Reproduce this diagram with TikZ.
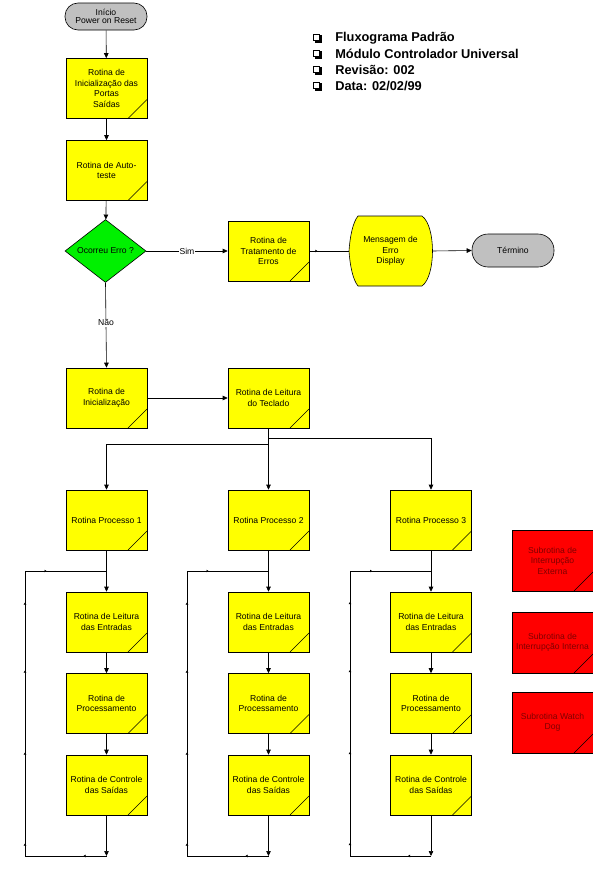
\documentclass[tikz,border=0pt]{standalone}
\usepackage{fontspec}
\setmainfont{Liberation Sans}
\usetikzlibrary{arrows.meta,shapes.geometric,decorations.markings}
\definecolor{boxyellow}{RGB}{255,255,0}
\definecolor{boxgreen}{RGB}{0,240,0}
\definecolor{boxgray}{RGB}{192,192,192}
\definecolor{boxred}{RGB}{255,0,0}
\definecolor{darkredtext}{RGB}{128,0,0}
\begin{document}
\begin{tikzpicture}[x=1pt,y=-1pt,line width=0.6pt,
  txt/.style={font=\fontsize{8.6}{10.5}\selectfont},
  corner/.style={path picture={\draw[line width=0.5pt] ([xshift=-19pt]path picture bounding box.south east) -- ([yshift=19pt]path picture bounding box.south east);}},
  proc/.style={draw, fill=boxyellow, minimum width=81pt, minimum height=60pt, inner sep=1pt, align=center, txt, corner},
  redbox/.style={draw, fill=boxred, minimum width=81pt, minimum height=61pt, inner sep=1pt, align=center, txt, text=darkredtext, corner},
  term/.style={draw, fill=boxgray, rounded corners=13pt, minimum width=82pt, inner sep=1pt, align=center, txt},
  dec/.style={draw, fill=boxgreen, diamond, minimum width=81pt, minimum height=60pt, inner sep=0pt, txt},
  arr/.style={-{Triangle[length=5pt,width=4.5pt]}},
  lbl/.style={fill=white, inner sep=1pt, txt},
  loopmarks/.style={postaction={decorate}, decoration={markings,
     mark=at position 23pt with {\arrow{Triangle[length=2pt,width=2.5pt]}},
     mark=at position 94pt with {\arrow{Triangle[length=2pt,width=2.5pt]}},
     mark=at position 185pt with {\arrow{Triangle[length=2pt,width=2.5pt]}},
     mark=at position 267pt with {\arrow{Triangle[length=2pt,width=2.5pt]}},
     mark=at position 335pt with {\arrow{Triangle[length=2pt,width=2.5pt]}},
     mark=at position 388pt with {\arrow{Triangle[length=2pt,width=2.5pt]}}}},
  hdr/.style={anchor=west, font=\fontsize{12.8}{14}\selectfont\bfseries, inner sep=0pt}
]
\useasboundingbox[fill=white] (0,0) rectangle (593,878);

% header
\foreach \yy in {38,54,70,86}{
  \fill (314.5,\yy-3) rectangle (321.5,\yy+4.5);
  \filldraw[fill=white,line width=0.6pt] (313,\yy-4) rectangle (319.5,\yy+2.5);
}
\node[hdr] (h1) at (335,38) {Fluxograma Padrão};
\node[hdr] (h2) at (335,54) {Módulo Controlador Universal};
\node[hdr] (h3) at (335,70) {Revisão: 002};
\node[hdr] (h4) at (335,86) {Data: 02/02/99};

% top part
\node[term, minimum height=27pt] (start) at (106,16.5) {Início\\[-2pt]Power on Reset};
\node[proc] (portas) at (106.5,88.5) {Rotina de\\Inicialização das\\Portas\\Saídas};
\node[proc] (auto) at (106.5,170.5) {Rotina de Auto-\\teste};
\node[dec] (erro) at (105.5,251) {Ocorreu Erro ?};
\node[proc] (trat) at (268.5,251) {Rotina de\\Tratamento de\\Erros};
\fill[boxyellow] (349,251) .. controls (350,236) and (353,222) .. (358,216) -- (422,216) .. controls (436,226) and (436,276) .. (422,286) -- (358,286) .. controls (353,280) and (350,266) .. (349,251) -- cycle;
\draw (349,251) .. controls (350,236) and (353,222) .. (358,216) -- (422,216) .. controls (436,226) and (436,276) .. (422,286) -- (358,286) .. controls (353,280) and (350,266) .. (349,251) -- cycle;
\node[txt, align=center, minimum width=83pt, minimum height=70pt, inner sep=0pt] (msg) at (390.5,251) {Mensagem de\\Erro\\Display};
\node[term, minimum height=33pt, rounded corners=16pt] (fim) at (513,250.5) {Término};

\draw[arr] (start) -- (portas);
\draw[arr] (portas) -- (auto);
\draw[arr] (auto) -- (erro);
\draw[arr] (erro.east) -- node[lbl] {Sim} (trat.west);
\draw[postaction={decorate}, decoration={markings, mark=at position 8pt with {\arrow{Triangle[length=2pt,width=2.5pt]}}}] (trat.east) -- (msg.west);
\draw[arr] (msg.east) -- (fim.west);

\node[proc] (init) at (106.5,398) {Rotina de\\Inicialização};
\node[proc] (tec) at (268.5,398) {Rotina de Leitura\\do Teclado};
\draw[arr] (erro.south) -- node[lbl, pos=0.47] {Não} (init.north);
\draw[arr] (init.east) -- (tec.west);

% columns
\foreach \i/\x/\lx in {1/106.5/25, 2/268.5/187, 3/431/350}{
  \node[proc] (p\i) at (\x,520) {Rotina Processo \i};
  \node[proc] (l\i) at (\x,622) {Rotina de Leitura\\das Entradas};
  \node[proc] (r\i) at (\x,703.5) {Rotina de\\Processamento};
  \node[proc] (c\i) at (\x,785) {Rotina de Controle\\das Saídas};
  \coordinate (t\i) at (\x,571);
  \coordinate (b\i) at (\x,856);
  \coordinate (bl\i) at (\lx,856);
  \coordinate (tl\i) at (\lx,571);
  \draw[arr] (p\i) -- (l\i);
  \draw[arr] (l\i) -- (r\i);
  \draw[arr] (r\i) -- (c\i);
  \draw[arr] (c\i.south) -- (b\i);
  \draw[loopmarks] (b\i) -- (bl\i) -- (tl\i) -- (t\i);
}

\coordinate (j1) at (268.5,438);
\coordinate (j2) at (268.5,444);
\draw[arr] (tec.south) -- (j1) -| (p3.north);
\draw[arr] (j1) -- (p2.north);
\draw[arr] (j2) -| (p1.north);

% red subroutines
\node[redbox] (s1) at (552.5,560.5) {Subrotina de\\Interrupção\\Externa};
\node[redbox] (s2) at (552.5,642.5) {Subrotina de\\Interrupção Interna};
\node[redbox] (s3) at (552.5,722.5) {Subrotina Watch\\Dog};
\end{tikzpicture}
\end{document}
